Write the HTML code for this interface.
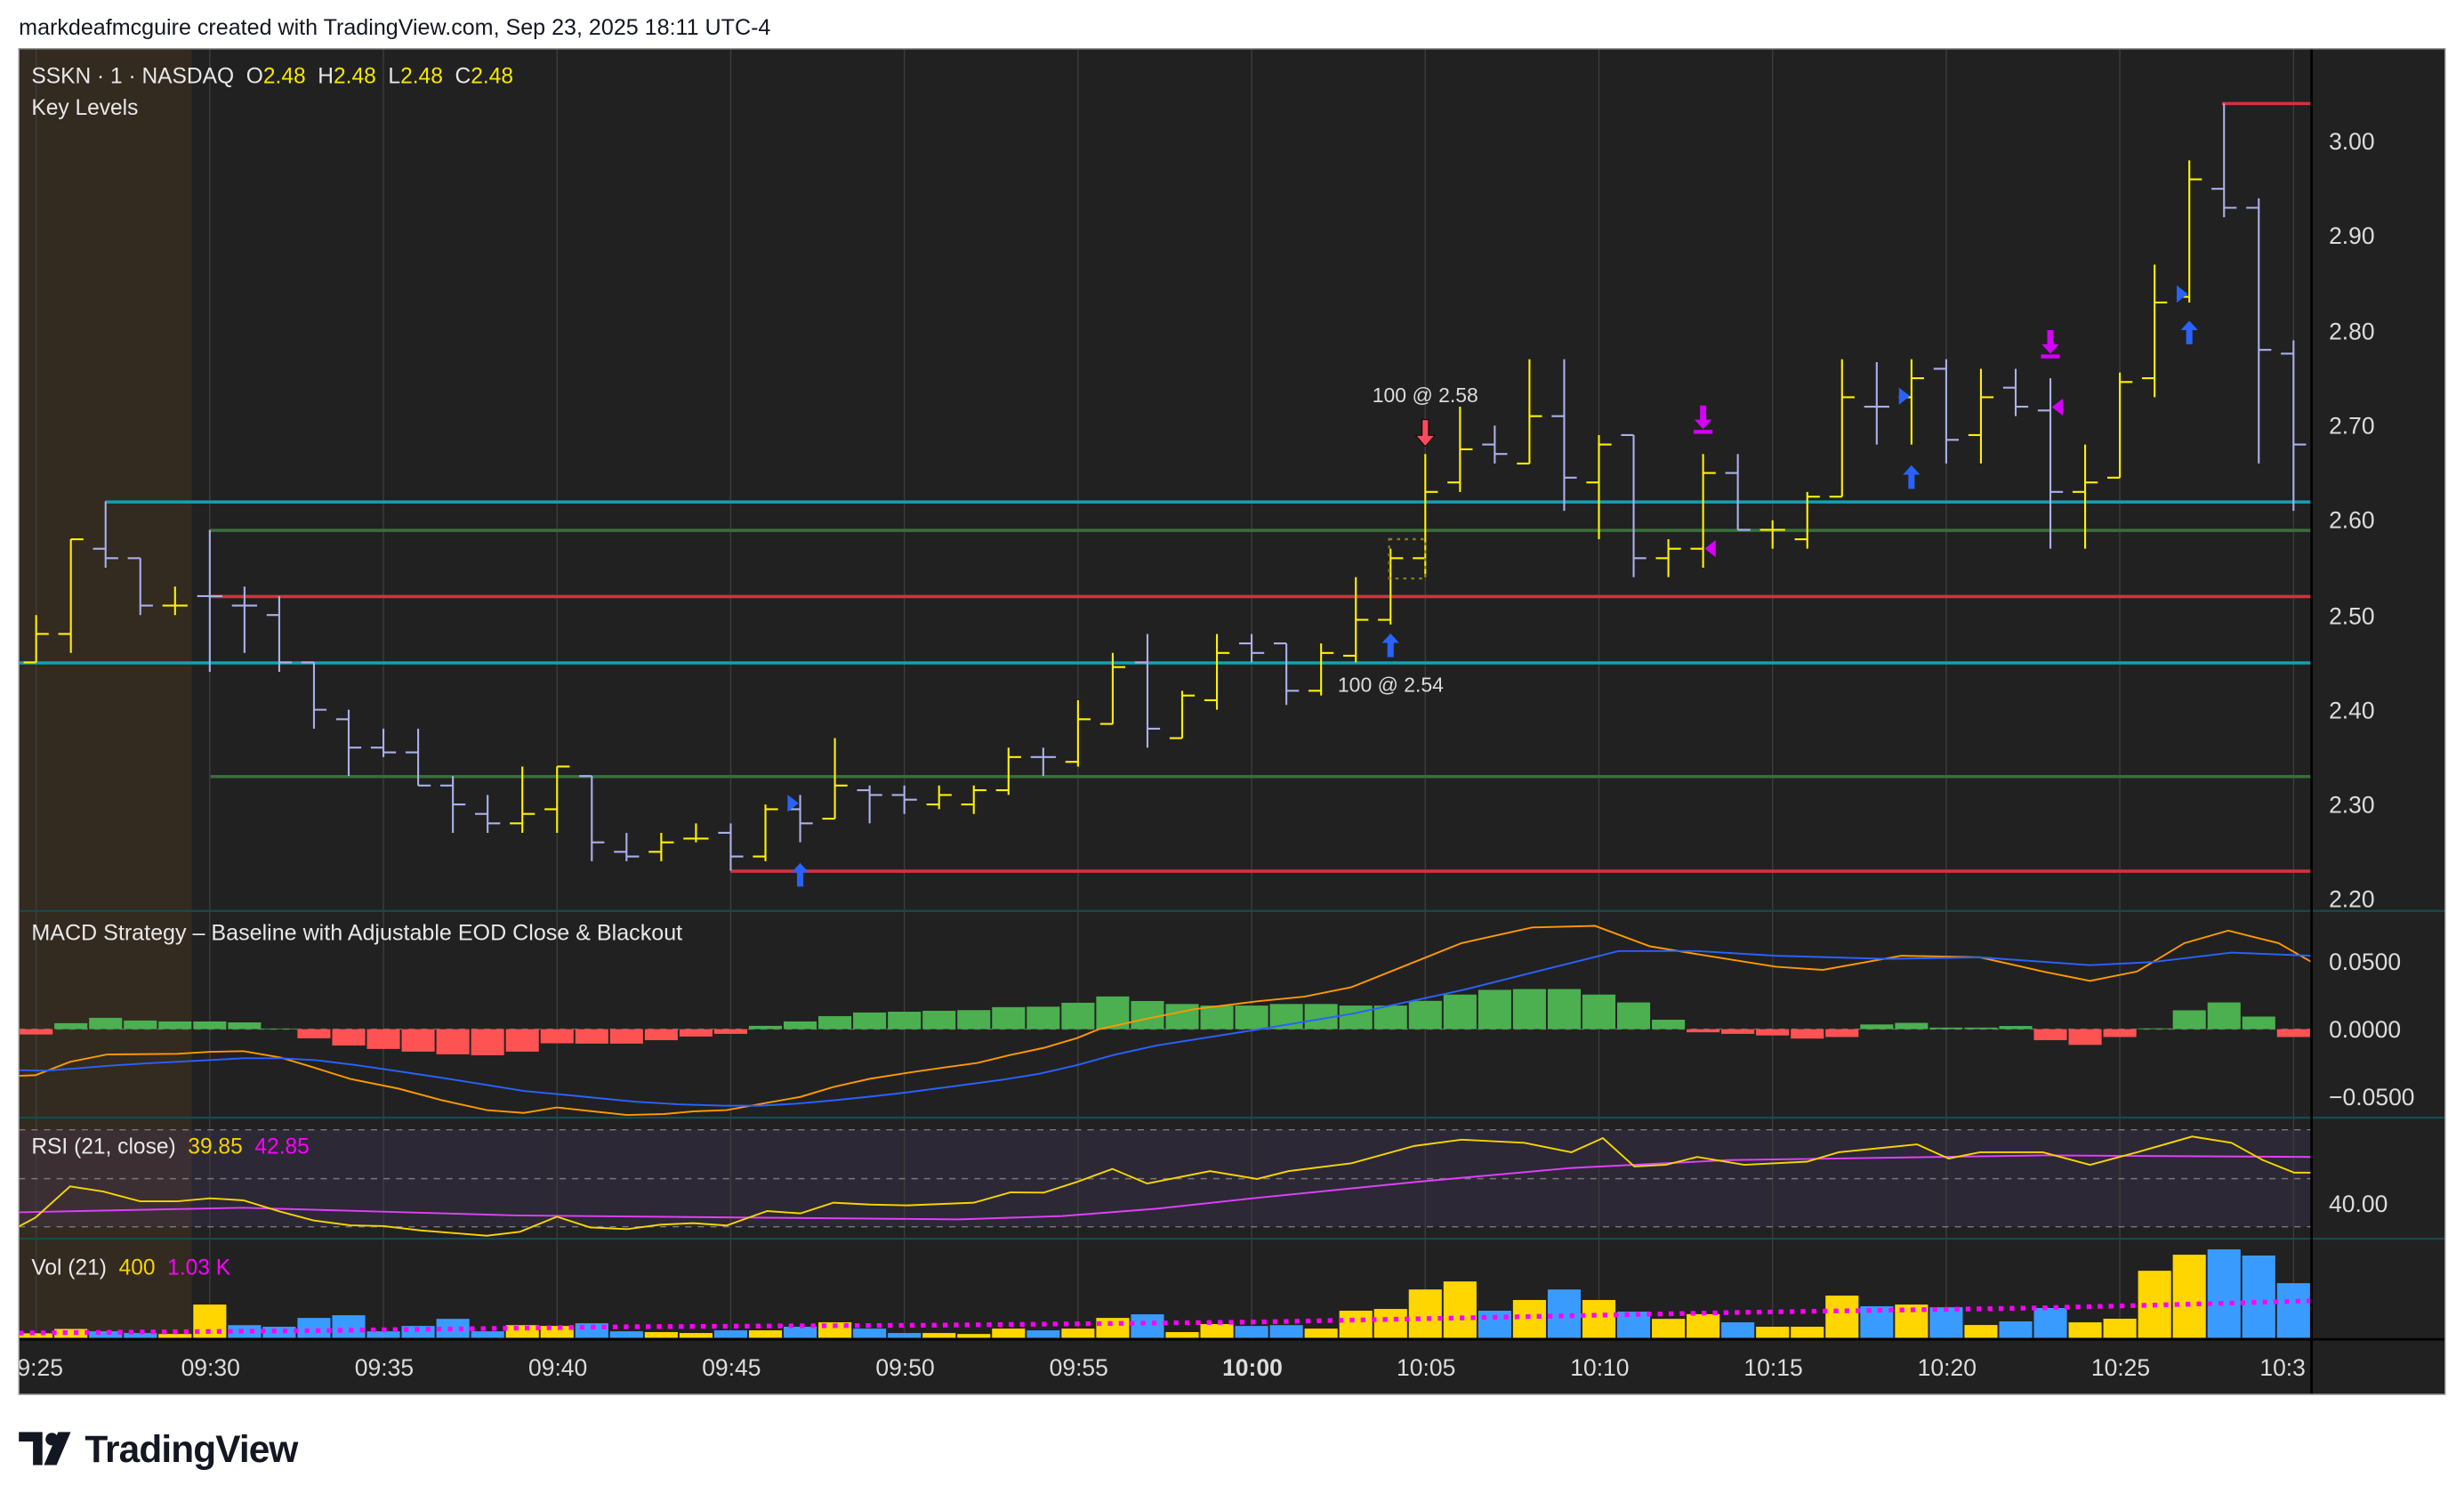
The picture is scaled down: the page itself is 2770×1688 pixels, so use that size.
<!DOCTYPE html>
<html><head><meta charset="utf-8"><style>
html,body{margin:0;padding:0;background:#fff;}
svg{display:block;}
text{font-family:"Liberation Sans",sans-serif;}
</style></head><body>
<svg id="s" width="2770" height="1688" viewBox="0 0 1568 955.5" preserveAspectRatio="none" xmlns="http://www.w3.org/2000/svg">
<rect x="0" y="0" width="1568" height="955.5" fill="#ffffff"/>
<text x="12" y="22" font-size="14.2" fill="#131722">markdeafmcguire created with TradingView.com, Sep 23, 2025 18:11 UTC-4</text>
<rect x="12" y="31" width="1544" height="856" fill="#212121" stroke="#9a9a9a" stroke-width="0.8"/>
<rect x="12" y="31" width="110" height="821" fill="#332a20"/>
<rect x="12" y="718.7" width="1459" height="61.7" fill="#7e57c2" fill-opacity="0.12"/>
<g id="grid" stroke="#3c3c3c" stroke-width="0.8"></g>
<g stroke="#7a7a7a" stroke-width="0.8" stroke-dasharray="4,4">
<line x1="12" y1="718.7" x2="1471" y2="718.7"/><line x1="12" y1="749.8" x2="1471" y2="749.8"/><line x1="12" y1="780.4" x2="1471" y2="780.4"/>
<line x1="12" y1="654.7" x2="1471" y2="654.7" stroke="#666"/>
</g>
<g stroke-width="2">
<line x1="67" y1="319.3" x2="1471" y2="319.3" stroke="#12a0b5"/>
<line x1="134" y1="337.4" x2="1471" y2="337.4" stroke="#3a6e3a"/>
<line x1="134" y1="379.5" x2="1471" y2="379.5" stroke="#d3323f"/>
<line x1="12" y1="421.7" x2="1471" y2="421.7" stroke="#12a0b5"/>
<line x1="134" y1="494" x2="1471" y2="494" stroke="#3a6e3a"/>
<line x1="465" y1="554.2" x2="1471" y2="554.2" stroke="#d3323f"/>
<line x1="1414" y1="65.9" x2="1471" y2="65.9" stroke="#d3323f"/>
</g>
<g id="bars" stroke-width="1.2" fill="none"></g>
<g id="hist"></g>
<g id="vol"></g>
<polyline fill="none" stroke="#ff9800" stroke-width="1.1" points="11.7,684.4 22.5,684 44.6,675.5 68.1,670.8 112.7,670.4 133.8,669.1 154.9,668.7 178.4,672.7 197.2,678.3 223,686.4 253.5,692.5 281.6,700 309.8,706.2 333.3,708 354.4,704.5 375.5,706.8 399,709.3 422.5,708.7 441.2,707 462.4,706.2 488.2,701.5 509.3,697.8 530.4,691.5 553.9,686.2 577.4,682.5 600.8,679.1 622,676.2 643,671.1 664.2,666.6 685.3,660.4 699.4,654.7 730,648 760,642 800,637 830,634 860,628 900,612 930,600 975,590 1015,589 1050,602 1080,607 1130,615 1160,617 1210,608 1260,609 1300,618 1330,624 1360,618 1390,600 1418,592 1450,600 1471,612"/>
<polyline fill="none" stroke="#2962ff" stroke-width="1.1" points="11.7,680.8 28.2,681.1 46.9,679.8 70.4,677.9 93.9,676.4 131.4,674.5 154.9,673.2 178.4,673.2 201.8,674.5 225.3,677.4 248.8,680.8 281.6,685.7 309.8,690.2 333.3,694 356.7,696.2 380.2,698.5 403.7,700.8 431.8,702.5 460,703.4 483.5,703.4 506.9,702.1 530.4,700 553.9,697.6 577.4,694.9 610.2,690.6 638.4,686.8 661.8,683 685.3,677.6 708.8,671.1 736,665.1 800,655 860,645 930,630 990,615 1030,605 1080,605 1130,608 1200,610 1260,609 1330,614 1370,612 1420,606 1471,608"/>
<polyline fill="none" stroke="#e040fb" stroke-width="1.1" points="11.7,771.2 154.9,768.3 328.6,773.2 469.4,774.5 610.2,775.7 676,773.6 736,768.9 800,762 900,752 1000,743 1100,738 1300,735 1471,736"/>
<polyline fill="none" stroke="#f5d400" stroke-width="1.1" points="11.7,780.4 22.5,774.6 44.6,754.7 65.7,758 89.2,764.2 112.7,764.2 133.8,762.3 154.9,763.6 178.4,770.8 199.5,776.4 223,779.5 244.1,780 267.6,782.7 291,784.6 309.8,786.1 330.9,783.6 354.4,774 375.5,780.8 399,781.9 420.1,779.1 441.2,778.1 462.4,779.6 488.2,770.4 509.3,771.9 530.4,765.1 553.9,766.3 577.4,766.8 619.6,765.1 643.1,758.5 664.2,758.7 685.3,751.9 707.9,743.6 730,752.9 770,745 800,750 820,745 860,740 900,729 930,725 970,727 1000,733 1020,724 1040,742 1060,741 1080,736 1110,741 1150,739 1170,733 1200,730 1220,728 1240,737 1260,733 1300,733 1330,741 1360,733 1395,723 1420,727 1440,738 1460,746 1471,746"/>
<polyline fill="none" stroke="#ff00ff" stroke-width="3" stroke-dasharray="3,4" points="12,848 200,846.5 400,844 600,843 800,841 900,839 1000,837 1100,835 1200,833.5 1300,832 1400,829.5 1471,827.5"/>
<g id="marks"></g>
<rect x="884" y="343" width="23" height="25" fill="none" stroke="#8a7d1a" stroke-width="1.3" stroke-dasharray="2,3"/>
<text x="907" y="256" font-size="13" fill="#dcdcdc" text-anchor="middle">100 @ 2.58</text>
<text x="885" y="440" font-size="13" fill="#dcdcdc" text-anchor="middle">100 @ 2.54</text>
<g stroke="#164b50" stroke-width="1.3">
<line x1="12" y1="579.5" x2="1556" y2="579.5"/><line x1="12" y1="711" x2="1556" y2="711"/><line x1="12" y1="788" x2="1556" y2="788"/>
</g>
<rect x="1471.5" y="31" width="84.5" height="856" fill="#212121"/>
<g stroke="#164b50" stroke-width="1.3">
<line x1="1471" y1="579.5" x2="1556" y2="579.5"/><line x1="1471" y1="711" x2="1556" y2="711"/><line x1="1471" y1="788" x2="1556" y2="788"/>
</g>
<rect x="12" y="852" width="1544" height="35" fill="#212121"/>
<line x1="12" y1="852" x2="1556" y2="852" stroke="#000" stroke-width="1.5"/>
<line x1="1471" y1="31" x2="1471" y2="887" stroke="#000" stroke-width="1.5"/>
<g font-size="15" fill="#dcdcdc">
<text x="1482" y="95">3.00</text><text x="1482" y="155">2.90</text><text x="1482" y="216">2.80</text><text x="1482" y="276">2.70</text><text x="1482" y="336">2.60</text><text x="1482" y="397">2.50</text><text x="1482" y="457">2.40</text><text x="1482" y="517">2.30</text>
<text x="1482" y="577">2.20</text>
<text x="1482" y="617">0.0500</text><text x="1482" y="660">0.0000</text><text x="1482" y="703">−0.0500</text>
<text x="1482" y="771">40.00</text>
</g>
<rect x="1472" y="580.2" width="83" height="10" fill="#212121"/>
<g font-size="15" fill="#dcdcdc" text-anchor="middle">
<text x="134" y="875">09:30</text><text x="244.5" y="875">09:35</text><text x="355" y="875">09:40</text><text x="465.5" y="875">09:45</text><text x="576" y="875">09:50</text><text x="686.5" y="875">09:55</text><text x="797" y="875" font-weight="bold">10:00</text><text x="907.5" y="875">10:05</text><text x="1018" y="875">10:10</text><text x="1128.5" y="875">10:15</text><text x="1239" y="875">10:20</text><text x="1349.5" y="875">10:25</text>
</g>
<text x="11" y="875" font-size="15" fill="#dcdcdc">9:25</text>
<text x="1438" y="875" font-size="15" fill="#dcdcdc">10:3</text>
<rect x="1470.3" y="853" width="85" height="33" fill="#212121"/>
<line x1="1471" y1="852" x2="1471" y2="887" stroke="#000" stroke-width="1.5"/>
<rect x="12" y="31" width="1544" height="856" fill="none" stroke="#9a9a9a" stroke-width="0.8"/>
<text x="20" y="53" font-size="13.9" fill="#e8e8e8" xml:space="preserve">SSKN · 1 · NASDAQ  O<tspan fill="#f5e800">2.48</tspan>  H<tspan fill="#f5e800">2.48</tspan>  L<tspan fill="#f5e800">2.48</tspan>  C<tspan fill="#f5e800">2.48</tspan></text>
<text x="20" y="73" font-size="13.9" fill="#e8e8e8">Key Levels</text>
<text x="20" y="598" font-size="14.2" fill="#e8e8e8">MACD Strategy – Baseline with Adjustable EOD Close &amp; Blackout</text>
<text x="20" y="734" font-size="13.9" fill="#e8e8e8" xml:space="preserve">RSI (21, close)  <tspan fill="#f5d400">39.85</tspan>  <tspan fill="#ff00ff">42.85</tspan></text>
<text x="20" y="811" font-size="13.9" fill="#e8e8e8" xml:space="preserve">Vol (21)  <tspan fill="#f5d400">400</tspan>  <tspan fill="#ff00ff">1.03 K</tspan></text>
<g fill="#131722">
<path d="M12 911 H27 V932 H21 V917 H12 Z"/>
<circle cx="33" cy="915.5" r="4"/>
<path d="M37 911 H45 L36 932 H28 Z"/>
</g>
<text x="54" y="930" font-size="24" font-weight="bold" fill="#131722" letter-spacing="-0.5">TradingView</text>
<script>
(function(){
var NS="http://www.w3.org/2000/svg";
function el(p,t,a){var e=document.createElementNS(NS,t);for(var k in a)e.setAttribute(k,a[k]);p.appendChild(e);return e;}
var X=function(m){return 23+22.1*m;};
var Y=function(p){return 90+(3-p)*602.5;};
var g=document.getElementById('grid');
for(var k=0;k<14;k++){var x=23+110.5*k;el(g,'line',{x1:x,y1:31,x2:x,y2:852});}
var B=[[2.45,2.50,2.45,2.48,1],[2.48,2.58,2.46,2.58,1],[2.57,2.62,2.55,2.56,0],[2.56,2.56,2.50,2.51,0],[2.51,2.53,2.50,2.51,1],[2.52,2.59,2.44,2.52,0],[2.51,2.53,2.46,2.51,0],[2.50,2.52,2.44,2.45,0],[2.45,2.45,2.38,2.40,0],[2.39,2.40,2.33,2.36,0],[2.36,2.38,2.35,2.355,0],[2.355,2.38,2.32,2.32,0],[2.32,2.33,2.27,2.30,0],[2.29,2.31,2.27,2.28,0],[2.28,2.34,2.27,2.29,1],[2.295,2.34,2.27,2.34,1],[2.33,2.33,2.24,2.26,0],[2.25,2.27,2.24,2.245,0],[2.25,2.27,2.24,2.26,1],[2.264,2.28,2.26,2.264,1],[2.27,2.28,2.23,2.245,0],[2.245,2.30,2.24,2.295,1],[2.295,2.31,2.26,2.28,0],[2.285,2.37,2.285,2.32,1],[2.315,2.32,2.28,2.31,0],[2.31,2.32,2.29,2.305,0],[2.30,2.32,2.295,2.31,1],[2.30,2.32,2.29,2.315,1],[2.315,2.36,2.31,2.35,1],[2.35,2.36,2.33,2.35,0],[2.345,2.41,2.34,2.39,1],[2.385,2.46,2.385,2.445,1],[2.45,2.48,2.36,2.38,0],[2.37,2.42,2.37,2.415,1],[2.41,2.48,2.40,2.46,1],[2.47,2.48,2.45,2.46,0],[2.47,2.47,2.405,2.42,0],[2.42,2.47,2.415,2.46,1],[2.457,2.54,2.45,2.495,1],[2.495,2.57,2.49,2.56,1],[2.56,2.67,2.54,2.63,1],[2.64,2.72,2.63,2.675,1],[2.68,2.70,2.66,2.67,0],[2.66,2.77,2.66,2.71,1],[2.71,2.77,2.61,2.645,0],[2.64,2.69,2.58,2.68,1],[2.69,2.69,2.54,2.56,0],[2.56,2.58,2.54,2.57,1],[2.57,2.67,2.55,2.65,1],[2.65,2.67,2.59,2.59,0],[2.59,2.60,2.57,2.59,1],[2.58,2.63,2.57,2.625,1],[2.625,2.77,2.625,2.73,1],[2.72,2.767,2.68,2.72,0],[2.73,2.77,2.68,2.75,1],[2.76,2.77,2.66,2.685,0],[2.69,2.76,2.66,2.73,1],[2.74,2.76,2.71,2.72,0],[2.716,2.75,2.57,2.63,0],[2.63,2.68,2.57,2.64,1],[2.645,2.756,2.645,2.746,1],[2.75,2.87,2.73,2.83,1],[2.836,2.98,2.83,2.96,1],[2.95,3.04,2.92,2.93,0],[2.93,2.94,2.66,2.78,0],[2.776,2.79,2.61,2.68,0]];
var bg=document.getElementById('bars');
B.forEach(function(b,m){var x=X(m);var c=b[4]?'#fff000':'#a9b0e8';
el(bg,'path',{d:'M'+x+' '+Y(b[1])+'V'+Y(b[2])+'M'+(x-8)+' '+Y(b[0])+'H'+x+'M'+x+' '+Y(b[3])+'H'+(x+8),stroke:c});});
var H=[-3.4,3.8,7.2,5.5,4.9,4.9,4.3,0.4,-5.8,-10.4,-12.6,-14.3,-16,-16.6,-14.3,-9,-9.2,-9.2,-7,-4.7,-3,2.1,4.9,8.3,10.6,11.1,11.7,12.1,14,14.3,16.8,20.8,17.9,16,15,15,16,16,15,15,18,22,25,25.5,25.5,22,17,6,-2,-3,-4,-6,-5,3,4,1,1,2,-7,-10,-5,0.5,12,17,8,-5];
var hg=document.getElementById('hist');
H.forEach(function(v,m){var x=X(m)-10.5;var y=v>=0?654.7-v:654.7;el(hg,'rect',{x:x,y:y,width:21,height:Math.abs(v),fill:v>=0?'#4caf50':'#ff5252'});});
var V=[[848.2,1],[845.4,1],[846.9,0],[848,0],[848.6,1],[829.9,1],[843,0],[844,0],[838.4,0],[836.7,0],[846.9,0],[843.5,0],[839,0],[846.9,0],[843,1],[843.5,1],[841.8,0],[846.9,0],[847.4,1],[848,1],[846.3,0],[846.3,1],[844,0],[841.2,1],[845.2,0],[848,0],[848,1],[848.6,1],[845.2,1],[846.3,0],[845.2,1],[838.4,1],[836.1,0],[847.4,1],[842.3,1],[843.5,0],[843,0],[845.2,1],[833.8,1],[832.7,1],[820.3,1],[815.2,1],[833.8,0],[827,1],[820.3,0],[827,1],[834.4,0],[839,1],[836,1],[841.2,0],[844,1],[844,1],[824.2,1],[831,0],[829.9,1],[831.6,0],[842.9,1],[840.6,0],[832.1,0],[841.2,1],[838.9,1],[808.4,1],[798.2,1],[794.8,0],[798.7,0],[816.3,0]];
var vg=document.getElementById('vol');
V.forEach(function(v,m){var x=X(m)-10.5;if(m==0)x=12;el(vg,'rect',{x:x,y:v[0],width:(m==0?X(0)+10.5-12:21),height:851-v[0],fill:v[1]?'#ffd600':'#3a9bff'});});
var mk=document.getElementById('marks');
function up(x,y,c){el(mk,'path',{d:'M'+x+' '+y+'l-5.5 6h3.5v9h4v-9h3.5z',fill:c});}
function dn(x,y,c,bar){el(mk,'path',{d:'M'+x+' '+(y+15)+'l-5.5-6h3.5v-9h4v9h3.5z',fill:c});if(bar)el(mk,'rect',{x:x-6,y:y+15.5,width:12,height:2.5,fill:c});}
function rt(x,y,c){el(mk,'path',{d:'M'+(x-5)+' '+(y-5.5)+'l7 5.5l-7 5.5z',fill:c});}
function lt(x,y,c){el(mk,'path',{d:'M'+(x+6)+' '+(y-5.5)+'l-7 5.5l7 5.5z',fill:c});}
var bl='#2962ff',mg='#d500f9';
rt(X(22)-3,511,bl);up(X(22),549,bl);
up(X(39),403,bl);
el(mk,'path',{d:'M'+X(40)+' 284 l-6-7h4v-10h4v10h4z',fill:'#ff4a5a',stroke:'#000','stroke-width':0.5});
dn(X(48),258,mg,true);lt(X(48)+2,349,mg);
rt(X(54)-3,252,bl);up(X(54),296,bl);
dn(X(58),210,mg,true);lt(X(58)+2,259,mg);
rt(X(62)-3,187,bl);up(X(62),204,bl);
})();
</script>
</svg>
</body></html>
